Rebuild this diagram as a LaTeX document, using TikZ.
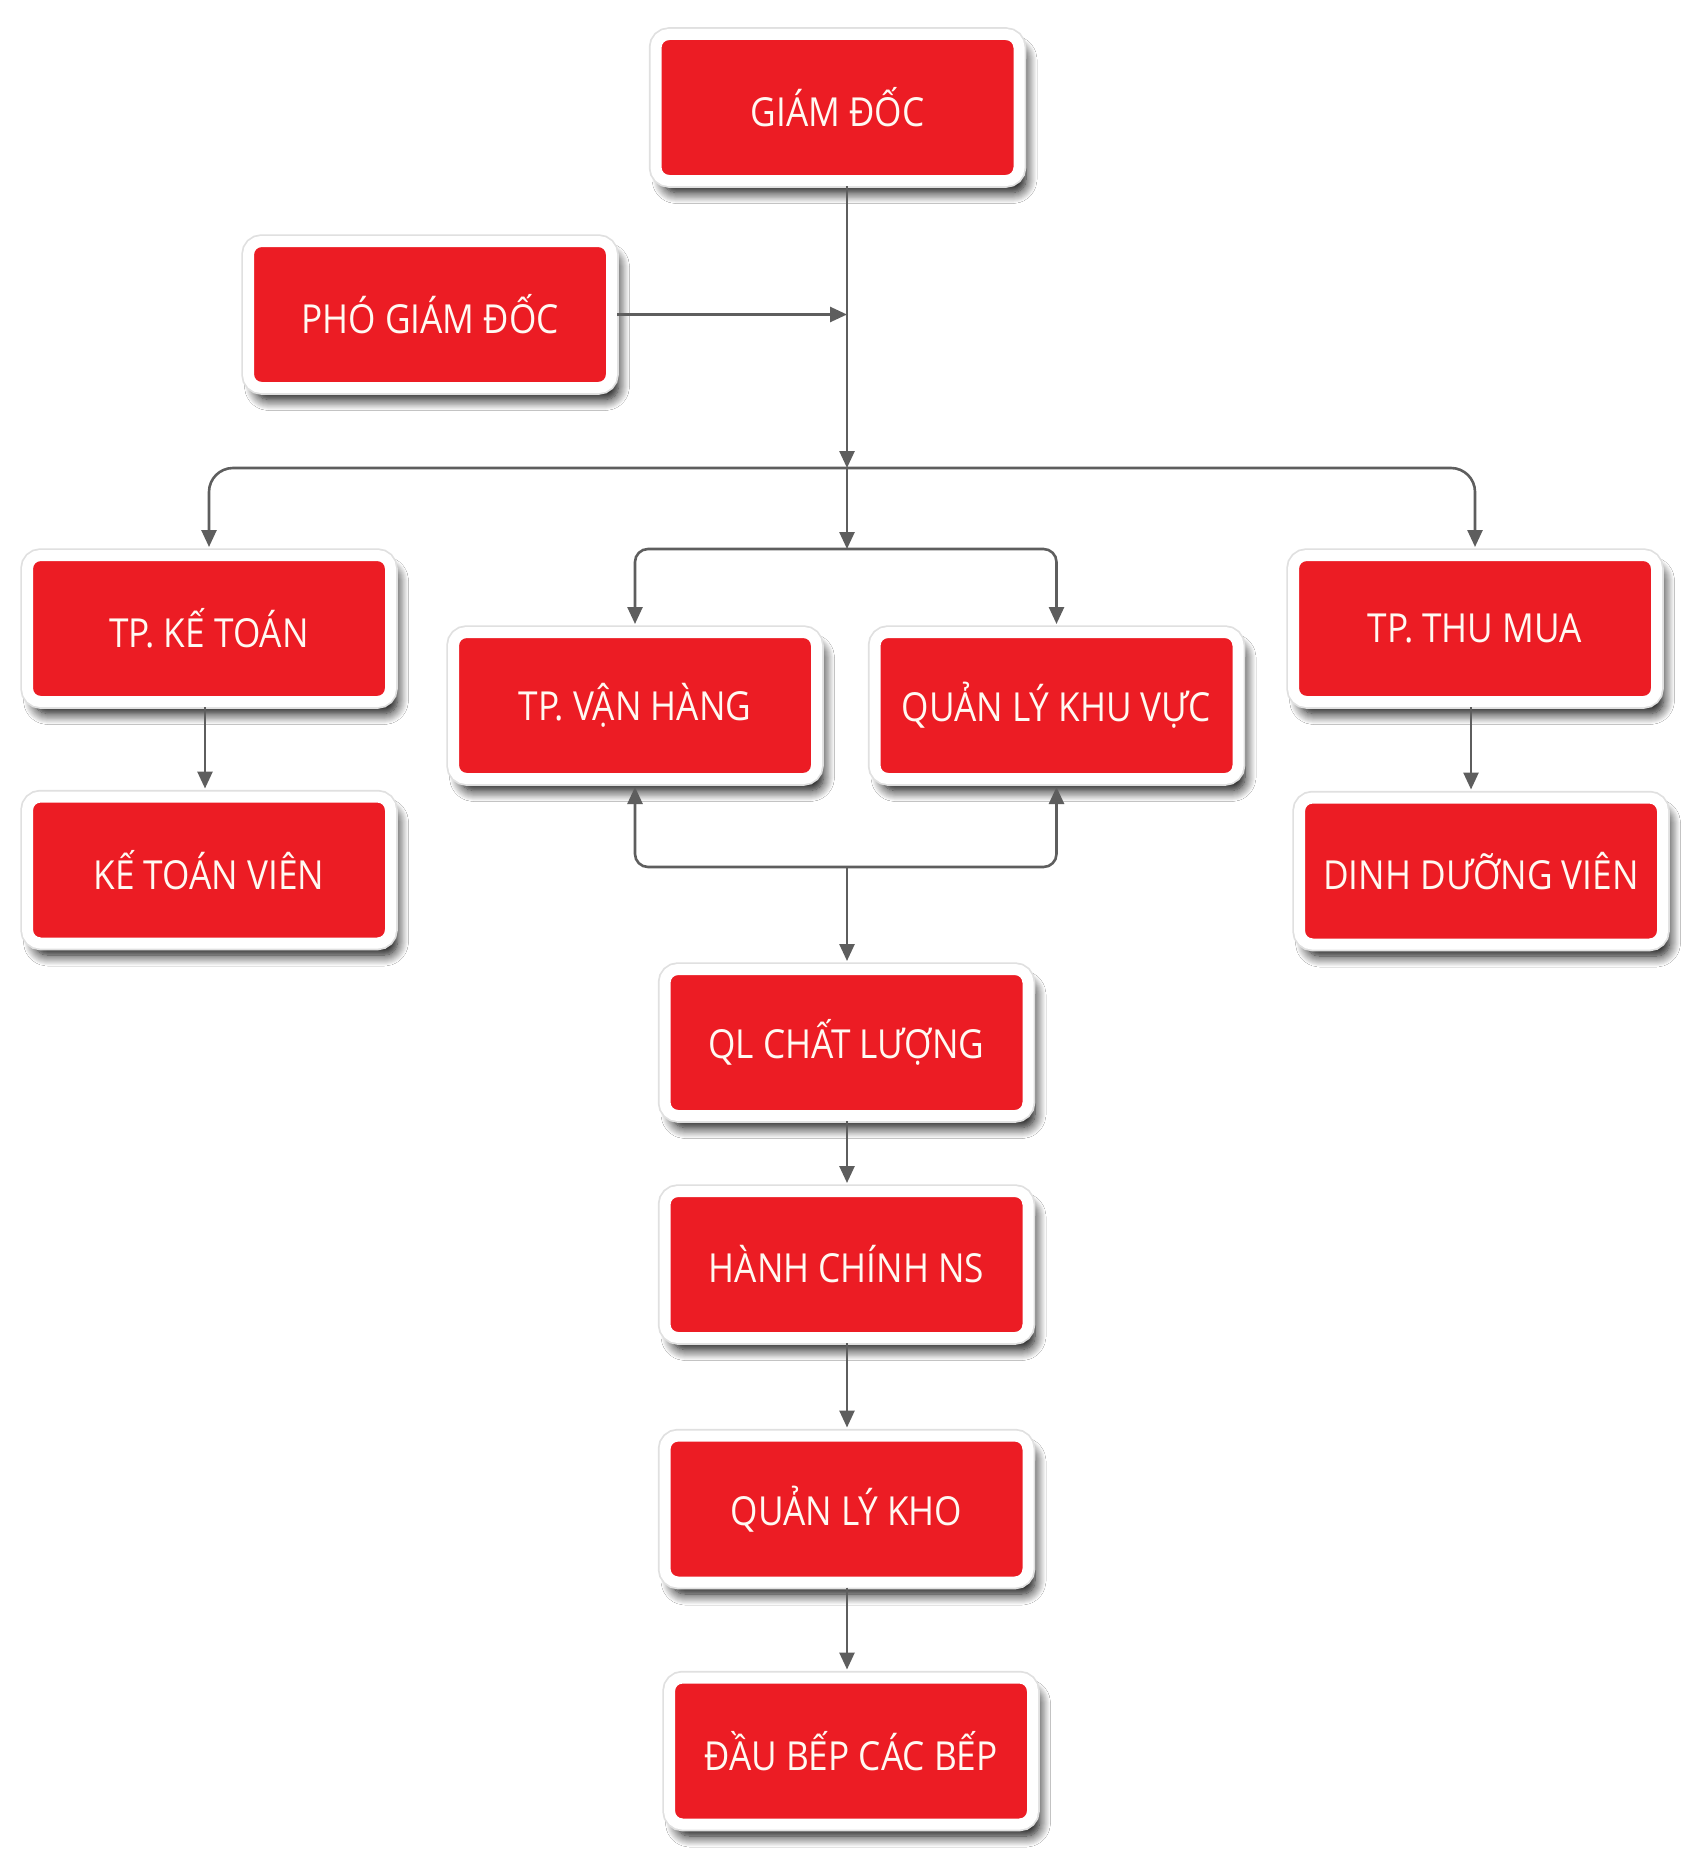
\documentclass[tikz,border=0pt]{standalone}
\usepackage{fontspec}
\setmainfont{Open Sans}[FakeStretch=0.88]
\usetikzlibrary{arrows.meta,shadows.blur,calc}
\definecolor{boxred}{HTML}{EC1C24}
\definecolor{txtwhite}{HTML}{FFF9F2}
\definecolor{linegray}{HTML}{5E5E5E}
\tikzset{
  orgbox/.style={draw=white, line width=11pt, fill=boxred, rounded corners=13pt,
    minimum width=363pt, minimum height=146pt, inner sep=0pt,
    text=txtwhite, font=\fontsize{40}{44}\selectfont,
    blur shadow={shadow xshift=7pt, shadow yshift=-12pt, shadow blur radius=11pt, shadow blur steps=12, shadow opacity=100},
    preaction={draw=black!12, line width=14.5pt}},
  conn/.style={draw=linegray, line width=2.6pt},
  arr/.style={conn, -{Triangle[width=15pt,length=17pt]}},
  darr/.style={conn, {Triangle[width=15pt,length=17pt]}-{Triangle[width=15pt,length=17pt]}}
}
\begin{document}
\begin{tikzpicture}[x=1pt,y=1pt]
\useasboundingbox[fill=white] (0,0) rectangle (1702,-1860);
% nodes
\node[orgbox] (gd)  at (837.5,-107.5) {GIÁM ĐỐC};
\node[orgbox] (pgd) at (430,-314.5) {PHÓ GIÁM ĐỐC};
\node[orgbox] (kt)  at (209,-628.5) {TP. KẾ TOÁN};
\node[orgbox] (ktv) at (209,-870) {KẾ TOÁN VIÊN};
\node[orgbox] (vh)  at (635,-705.5) {TP. VẬN HÀNG};
\node[orgbox] (kv)  at (1056.5,-705.5) {QUẢN LÝ KHU VỰC};
\node[orgbox] (tm)  at (1475,-628.5) {TP. THU MUA};
\node[orgbox] (ddv) at (1481,-871) {DINH DƯỠNG VIÊN};
\node[orgbox] (ql)  at (846.5,-1042.5) {QL CHẤT LƯỢNG};
\node[orgbox] (hc)  at (846.5,-1264.5) {HÀNH CHÍNH NS};
\node[orgbox] (kho) at (846.5,-1509) {QUẢN LÝ KHO};
\node[orgbox] (db)  at (851,-1751) {ĐẦU BẾP CÁC BẾP};
% junctions
\coordinate (b1) at (847,-468);
\coordinate (b2) at (847,-549);
\coordinate (b3) at (847,-867);
% connectors
\draw[arr] (gd.south -| b1) -- (b1);
\draw[arr] (pgd.east) -- (pgd.east -| b1);
\draw[darr, rounded corners=24pt, shorten <=3pt, shorten >=3pt] (kt.north) |- (b1) -| (tm.north);
\draw[arr] (b1) -- (b2);
\draw[darr, rounded corners=13pt, shorten <=3pt, shorten >=3pt] (vh.north) |- (b2) -| (kv.north);
\draw[darr, rounded corners=13pt, shorten <=3pt, shorten >=3pt] (vh.south) |- (b3) -| (kv.south);
\draw[arr, shorten >=3pt] (b3) -- (b3 |- ql.north);
\draw[arr, shorten >=3pt] (kt.south -| 205,0) -- (ktv.north -| 205,0);
\draw[arr, shorten >=3pt] (tm.south -| 1471,0) -- (ddv.north -| 1471,0);
\draw[arr, shorten >=3pt] (ql.south -| b3) -- (hc.north -| b3);
\draw[arr, shorten >=3pt] (hc.south -| b3) -- (kho.north -| b3);
\draw[arr, shorten >=3pt] (kho.south -| b3) -- (db.north -| b3);
\end{tikzpicture}
\end{document}
